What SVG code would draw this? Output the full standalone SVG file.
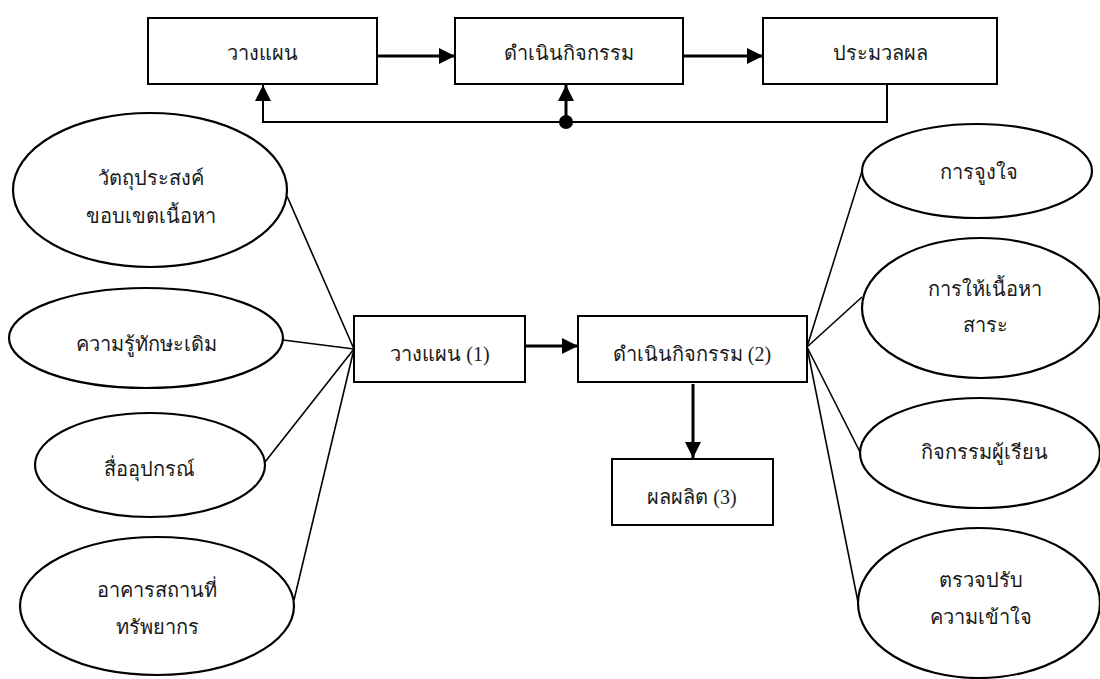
<svg xmlns="http://www.w3.org/2000/svg" width="1100" height="679" viewBox="0 0 1100 679">
<style>
.box{fill:#fff;stroke:#000;stroke-width:2}
.ell{fill:#fff;stroke:#000;stroke-width:2.2}
.t{font-family:"Liberation Serif","Noto Sans",serif;font-size:20px;fill:#1a1a1a;text-anchor:middle}
.ln{fill:none;stroke:#000;stroke-width:1.6}
.ar{fill:none;stroke:#000;stroke-width:3}
.fb{fill:none;stroke:#000;stroke-width:2}
</style>
<defs>
<marker id="ah" markerUnits="userSpaceOnUse" markerWidth="16" markerHeight="16" viewBox="0 0 16 16" refX="16" refY="8" orient="auto">
<path d="M0,0 L16,8 L0,16 Z" fill="#000"/>
</marker>
</defs>
<g id="connectors">
<line class="ar" x1="377" y1="56" x2="455" y2="56" marker-end="url(#ah)"/>
<line class="ar" x1="683" y1="56" x2="763" y2="56" marker-end="url(#ah)"/>
<polyline class="fb" points="887,85 887,122 263,122"/>
<line class="fb" x1="263" y1="123" x2="263" y2="85" marker-end="url(#ah)"/>
<line class="ar" x1="566" y1="122" x2="566" y2="85" marker-end="url(#ah)"/>
<circle cx="566" cy="122" r="7" fill="#000"/>
<line class="ar" x1="525" y1="346" x2="578" y2="346" marker-end="url(#ah)"/>
<line class="ar" x1="693" y1="384" x2="693" y2="458" marker-end="url(#ah)"/>
<line class="ln" x1="354" y1="349" x2="287" y2="196"/>
<line class="ln" x1="354" y1="349" x2="283" y2="340"/>
<line class="ln" x1="354" y1="349" x2="265" y2="462"/>
<line class="ln" x1="354" y1="349" x2="294" y2="600"/>
<line class="ln" x1="807" y1="347" x2="862" y2="171"/>
<line class="ln" x1="807" y1="347" x2="862" y2="297"/>
<line class="ln" x1="807" y1="347" x2="860" y2="452"/>
<line class="ln" x1="807" y1="347" x2="858" y2="602"/>
</g>
<g id="plan-top"><rect class="box" x="148" y="18" width="229" height="66"/><text class="t" x="262" y="60">วางแผน</text></g>
<g id="act-top"><rect class="box" x="455" y="18" width="228" height="66"/><text class="t" x="569" y="60">ดำเนินกิจกรรม</text></g>
<g id="eval-top"><rect class="box" x="763" y="18" width="234" height="66"/><text class="t" x="880" y="60">ประมวลผล</text></g>
<g id="plan"><rect class="box" x="354" y="316" width="171" height="66"/><text class="t" x="440" y="361">วางแผน  (1)</text></g>
<g id="act"><rect class="box" x="578" y="316" width="229" height="66"/><text class="t" x="692" y="361">ดำเนินกิจกรรม  (2)</text></g>
<g id="output"><rect class="box" x="612" y="459" width="161" height="66"/><text class="t" x="692" y="504">ผลผลิต  (3)</text></g>
<g id="objective"><ellipse class="ell" cx="150" cy="190" rx="137" ry="77"/><text class="t" x="151" y="185">วัตถุประสงค์</text><text class="t" x="151" y="223">ขอบเขตเนื้อหา</text></g>
<g id="prior"><ellipse class="ell" cx="146" cy="338" rx="137" ry="50"/><text class="t" x="146" y="351">ความรู้ทักษะเดิม</text></g>
<g id="media"><ellipse class="ell" cx="150" cy="465" rx="115" ry="52"/><text class="t" x="149" y="476">สื่ออุปกรณ์</text></g>
<g id="building"><ellipse class="ell" cx="157" cy="606" rx="137" ry="69"/><text class="t" x="157" y="597">อาคารสถานที่</text><text class="t" x="157" y="634">ทรัพยากร</text></g>
<g id="motivate"><ellipse class="ell" cx="977" cy="171" rx="115" ry="47"/><text class="t" x="979" y="179">การจูงใจ</text></g>
<g id="content"><ellipse class="ell" cx="981" cy="308" rx="119" ry="70"/><text class="t" x="985" y="296">การให้เนื้อหา</text><text class="t" x="985" y="332">สาระ</text></g>
<g id="learner"><ellipse class="ell" cx="980" cy="453" rx="120" ry="55"/><text class="t" x="984" y="459">กิจกรรมผู้เรียน</text></g>
<g id="check"><ellipse class="ell" cx="979" cy="603" rx="121" ry="75"/><text class="t" x="981" y="587">ตรวจปรับ</text><text class="t" x="981" y="624">ความเข้าใจ</text></g>
</svg>
